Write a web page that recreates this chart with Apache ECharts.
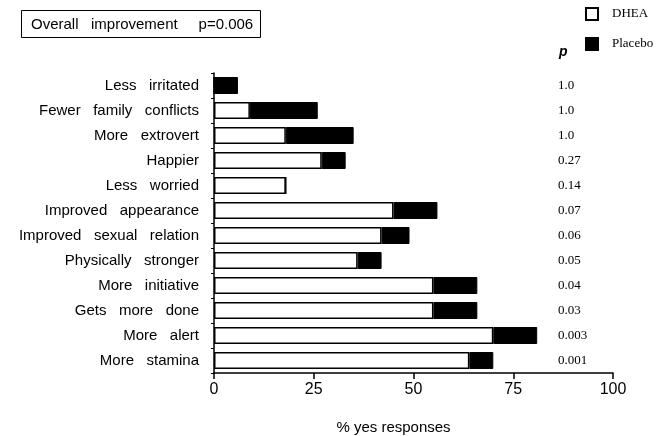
<!DOCTYPE html>
<html>
<head>
<meta charset="utf-8">
<script src="https://cdn.jsdelivr.net/npm/echarts@6/dist/echarts.min.js"></script>
<style>html,body{margin:0;padding:0;background:#fff}#c{width:656px;height:436px}</style>
</head>
<body>
<div id="c"></div>
<script>
var categories = ["Less irritated","Fewer family conflicts","More extrovert","Happier","Less worried","Improved appearance","Improved sexual relation","Physically stronger","More initiative","Gets more done","More alert","More stamina"];
var dheaValues = [0, 9, 18, 27, 18, 45, 42, 36, 55, 55, 70, 64];
var placeboValues = [6, 17, 17, 6, 0, 11, 7, 6, 11, 11, 11, 6];
var pValues = ["1.0","1.0","1.0","0.27","0.14","0.07","0.06","0.05","0.04","0.03","0.003","0.001"];
var xTicks = [0, 25, 50, 75, 100];

var sans = "Liberation Sans, Arial, Helvetica, sans-serif";
var serif = "Liberation Serif, Times New Roman, serif";

var chart = echarts.init(document.getElementById('c'), null, {renderer: 'canvas'});
chart.setOption({
  backgroundColor: '#ffffff',
  animation: false,
  title: {
    text: 'Overall   improvement     p=0.006',
    left: 21, top: 10,
    padding: [7, 8, 6, 10],
    borderColor: '#000', borderWidth: 1,
    textStyle: {fontFamily: sans, fontSize: 15, fontWeight: 'normal', color: '#000'}
  },
  legend: {
    data: ['DHEA', 'Placebo'],
    orient: 'vertical',
    left: 585, top: 7, padding: 0,
    itemWidth: 12, itemHeight: 12, itemGap: 16,
    icon: 'rect',
    textStyle: {fontFamily: serif, fontSize: 13, color: '#000', padding: [0, 0, 0, 9]}
  },
  grid: {left: 214, right: 43, top: 73, bottom: 63, containLabel: false, outerBoundsMode: 'none'},
  xAxis: {
    type: 'value', min: xTicks[0], max: xTicks[xTicks.length - 1], interval: 25,
    axisLine: {show: true, lineStyle: {color: '#000', width: 1.5}},
    axisTick: {show: true, length: 6, lineStyle: {color: '#000', width: 1.5}},
    splitLine: {show: false},
    axisLabel: {fontFamily: sans, fontSize: 16, color: '#000', margin: 9},
    name: '% yes responses',
    nameLocation: 'middle', nameGap: 47,
    nameTextStyle: {fontFamily: sans, fontSize: 15, color: '#000', padding: [0, 40, 0, 0]}
  },
  yAxis: [{
    type: 'category', data: categories, inverse: true,
    axisLine: {show: true, lineStyle: {color: '#000', width: 1.5}},
    axisTick: {show: true, length: 3, alignWithLabel: false, lineStyle: {color: '#000'}},
    axisLabel: {
      fontFamily: sans, fontSize: 15, color: '#000', margin: 15,
      formatter: function (v) { return v.split(' ').join('   '); }
    }
  }, {
    type: 'category', data: pValues, inverse: true, position: 'right', offset: -55,
    axisLine: {show: false}, axisTick: {show: false},
    axisLabel: {fontFamily: serif, fontSize: 13, color: '#000', margin: 0, align: 'left', padding: [5, 0, 0, 0]}
  }],
  graphic: [{
    type: 'text', left: 559, top: 45,
    style: {text: 'p', font: 'italic bold 14px ' + sans, fill: '#000'}
  }],
  series: [{
    name: 'DHEA', type: 'bar', stack: 'total', yAxisIndex: 0,
    data: dheaValues, barWidth: 17,
    itemStyle: {color: '#ffffff', borderColor: '#000', borderWidth: 1.5}
  }, {
    name: 'Placebo', type: 'bar', stack: 'total', yAxisIndex: 0,
    data: placeboValues, barWidth: 17,
    itemStyle: {color: '#000000', borderColor: '#000', borderWidth: 1}
  }]
});
</script>
</body>
</html>
